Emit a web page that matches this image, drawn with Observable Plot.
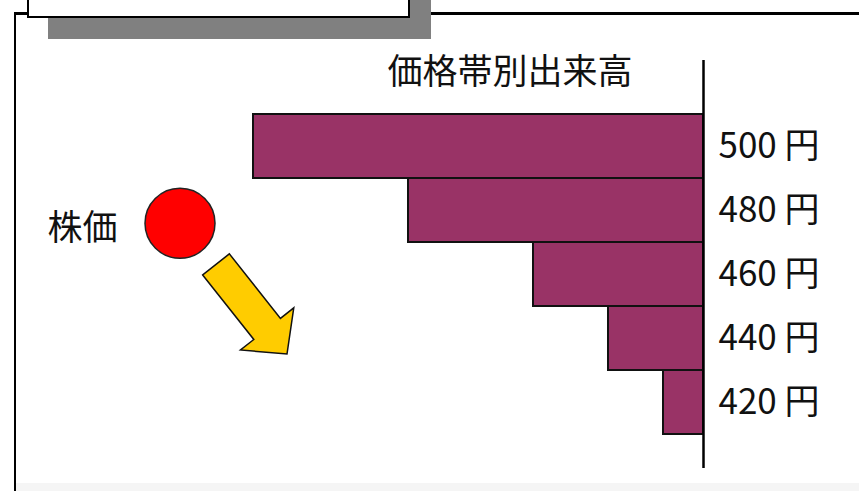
<!DOCTYPE html>
<html>
<head>
<meta charset="utf-8">
<script src="https://cdn.jsdelivr.net/npm/d3@7"></script>
<script src="https://cdn.jsdelivr.net/npm/@observablehq/plot@0.6"></script>
<style>
  body { margin: 0; background: #fff; }
  #wrap { position: relative; width: 859px; height: 491px; overflow: hidden; background: #fff; }
  .deco { position: absolute; box-sizing: border-box; }
  #chart { position: absolute; left: 0; top: 0; }
</style>
</head>
<body>
<div id="wrap">
  <div class="deco" style="left:14px;top:12px;width:900px;height:520px;border-left:2px solid #000;border-top:3px solid #000;"></div>
  <div class="deco" style="left:16px;top:483px;width:843px;height:8px;background:#f5f5f5;"></div>
  <div class="deco" style="left:48px;top:-10px;width:383px;height:49px;background:#808080;"></div>
  <div class="deco" style="left:27px;top:-10px;width:383px;height:28px;background:#fff;border:2px solid #000;border-top:none;"></div>
  <div id="chart"></div>
</div>
<script>
// ---- data ----
const prices = [500, 480, 460, 440, 420];           // price band centre (円)
const volumes = [90, 59, 34, 19, 8];                // relative volume traded in band
const priceLabels = ["500 円", "480 円", "460 円", "440 円", "420 円"];
const bandHalf = 10;                                // each band spans ±10円
const chartTitle = "価格帯別出来高";
const stockLabel = "株価";
const stockPrice = [476];                           // current price level
const stockMove = [463, 435];                       // arrow: price falling

const rows = prices.map((p, i) => ({ price: p, volume: volumes[i], label: priceLabels[i] }));

const font = "'Noto Sans CJK JP', 'Noto Sans', sans-serif";

function blockArrow(index, scales, values, dims) {
  const ys = scales.y;
  const x0 = dims.marginLeft + 13, y0 = ys(stockMove[0]);
  const x1 = dims.marginLeft + 84, y1 = ys(stockMove[1]);
  const dx = x1 - x0, dy = y1 - y0, L = Math.hypot(dx, dy);
  const ux = dx / L, uy = dy / L, nx = -uy, ny = ux;
  const sw = 17, hw = 34, hl = 32;
  const bx = x1 - ux * hl, by = y1 - uy * hl;
  const pts = [
    [x0 + nx * sw, y0 + ny * sw],
    [bx + nx * sw, by + ny * sw],
    [bx + nx * hw, by + ny * hw],
    [x1, y1],
    [bx - nx * hw, by - ny * hw],
    [bx - nx * sw, by - ny * sw],
    [x0 - nx * sw, y0 - ny * sw]
  ];
  return d3.create("svg:polygon")
    .attr("points", pts.map(p => p.join(",")).join(" "))
    .attr("fill", "#ffcc00")
    .attr("stroke", "#111")
    .attr("stroke-width", 1.5)
    .node();
}

const chart = Plot.plot({
  width: 859,
  height: 491,
  marginTop: 60,
  marginBottom: 23,
  marginLeft: 203,
  marginRight: 156,
  style: { background: "transparent", fontFamily: font, overflow: "visible" },
  x: { domain: [0, 100], reverse: true, axis: null },
  y: { domain: [399.375, 526.875], axis: null },
  marks: [
    Plot.rectX(rows, {
      x1: 0, x2: "volume",
      y1: d => d.price - bandHalf, y2: d => d.price + bandHalf,
      fill: "#993366", stroke: "#111", strokeWidth: 2
    }),
    Plot.ruleX([0], { stroke: "#000", strokeWidth: 2.5 }),
    Plot.text(rows, {
      x: 0, y: "price", text: "label", dx: 15, textAnchor: "start",
      fontSize: 35, fill: "#111"
    }),
    Plot.text([chartTitle], {
      text: d => d, frameAnchor: "top-right", dx: -71, dy: 12,
      textAnchor: "end", lineAnchor: "middle", fontSize: 35, fill: "#111"
    }),
    Plot.dot(stockPrice, {
      y: d => d, frameAnchor: "left", dx: -23.5, r: 35,
      fill: "#ff0000", stroke: "#222", strokeWidth: 1.5
    }),
    Plot.text([stockLabel], {
      text: d => d, y: () => stockPrice[0], frameAnchor: "left", dx: -121, dy: 5.5,
      textAnchor: "middle", fontSize: 35, fill: "#111"
    }),
    blockArrow
  ]
});
document.getElementById("chart").appendChild(chart);
</script>
</body>
</html>
